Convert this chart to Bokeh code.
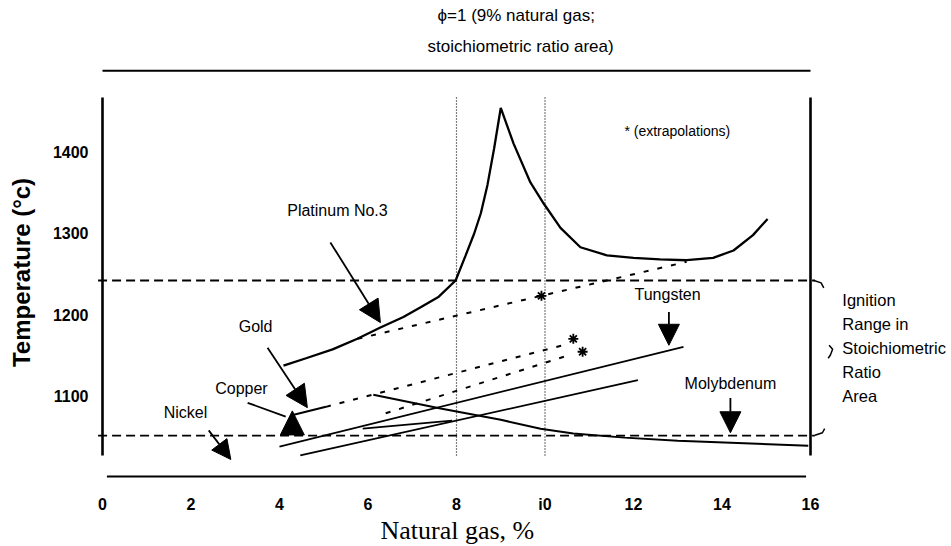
from bokeh.plotting import figure
from bokeh.models import Range1d, FixedTicker, Label, Arrow, NormalHead, Title
from bokeh.embed import file_html
from bokeh.resources import INLINE

# ---------------- data ----------------
x_ticks = [0, 2, 4, 6, 8, 10, 12, 14, 16]
x_tick_labels = {10: "i0"}
y_ticks = [1100, 1200, 1300, 1400]

# main temperature curve (solid, with peak at phi=1)
main_x = [4.09, 4.6, 5.2, 5.76, 6.28, 6.8, 7.19, 7.6, 7.98, 8.2, 8.4, 8.55, 8.7, 8.85, 9.0,
          9.29, 9.67, 9.97, 10.35, 10.8, 11.4, 12.0, 12.6, 13.2, 13.8, 14.26, 14.7, 15.03]
main_t = [1137, 1146, 1157, 1170, 1184, 1197, 1209, 1222, 1242, 1272, 1300, 1325, 1360, 1405, 1455,
          1411, 1363, 1337, 1307, 1283, 1273, 1270, 1268, 1267, 1270, 1279, 1298, 1318]

platinum_dash_x = [5.76, 13.2]
platinum_dash_t = [1170, 1265]

gold_solid_x = [4.3, 5.05]
gold_solid_t = [1076, 1086]
gold_dash_x = [5.05, 10.4]
gold_dash_t = [1086, 1162]

copper_dash_x = [6.4, 10.55]
copper_dash_t = [1078, 1150]

tungsten_x = [4.0, 13.13]
tungsten_t = [1037, 1160]

lower_x = [4.47, 12.1]
lower_t = [1026, 1119]

short_x = [5.88, 7.9]
short_t = [1059, 1069]

molybdenum_x = [6.12, 7.64, 9.0, 9.9, 10.64, 11.8, 13.0, 14.5, 15.95]
molybdenum_t = [1101, 1084, 1070, 1059, 1053, 1048, 1044, 1041, 1038]

star_x = [9.92, 10.64, 10.85]
star_t = [1223, 1170, 1154]

ignition_low = 1050.5
ignition_high = 1242
ignition_x = [-0.1, 16.1]

phi_lines_x = [8, 10]
axis_t = [1026, 1468]
top_rule_t = 1501
bottom_rule_t = 1000

brace_up_x = [16.08, 16.24, 16.3]
brace_up_t = [1242, 1239, 1233]
brace_mid_x = [16.42, 16.5, 16.45, 16.4]
brace_mid_t = [1162, 1157, 1150, 1146]
brace_lo_x = [16.1, 16.27, 16.32]
brace_lo_t = [1051, 1054, 1059]

# arrows: (x_start, t_start, x_end, t_end, head size)
arrows = [
    (5.15, 1289, 6.28, 1190, 22),   # Platinum No.3
    (3.73, 1159, 4.63, 1085, 22),   # Gold
    (4.29, 1057, 4.29, 1081, 24),   # Copper head (pointing up)
    (2.40, 1057, 2.90, 1021, 19),   # Nickel
    (12.8, 1203, 12.8, 1162, 21),   # Tungsten
    (14.19, 1097, 14.19, 1054, 21), # Molybdenum
]
copper_lead_x = [3.28, 4.14]
copper_lead_t = [1091, 1074]

# labels: (text, x, t, size)
labels = [
    ("Platinum No.3", 5.31, 1328.4, "16px"),
    ("Gold", 3.46, 1185.2, "16px"),
    ("Copper", 3.14, 1108.6, "16px"),
    ("Nickel", 1.876, 1079, "16px"),
    ("Tungsten", 12.77, 1224.7, "16px"),
    ("Molybdenum", 14.19, 1114.8, "16px"),
    ("* (extrapolations)", 12.99, 1426, "14px"),
]
side_labels = ["Ignition", "Range in", "Stoichiometric", "Ratio", "Area"]
side_t = [1217.3, 1187.7, 1158.6, 1129.6, 1098.8]
side_x = 16.72

title_line1 = "\u03d5=1 (9% natural gas;"
title_line2 = "stoichiometric ratio area)"
x_title = "Natural gas, %"
y_title = "Temperature (\u00b0c)"

# ---------------- figure ----------------
p = figure(frame_width=850, frame_height=420, title=None,
           x_range=Range1d(-0.113, 19.096), y_range=Range1d(992.6, 1511.1),
           output_backend="svg", toolbar_location=None,
           min_border_left=97, min_border_right=0, min_border_top=62, min_border_bottom=0,
           background_fill_color="white", border_fill_color="white")
p.outline_line_color = None
p.grid.visible = False

p.xaxis.ticker = FixedTicker(ticks=x_ticks)
p.xaxis.major_label_overrides = x_tick_labels
p.yaxis.ticker = FixedTicker(ticks=y_ticks)
for ax in (p.xaxis, p.yaxis):
    ax.axis_line_color = None
    ax.major_tick_in = 0
    ax.major_tick_out = 0
    ax.minor_tick_in = 0
    ax.minor_tick_out = 0
    ax.major_label_text_font = "Liberation Sans"
    ax.major_label_text_font_style = "bold"
    ax.major_label_text_font_size = "16px"
    ax.major_label_text_color = "black"
p.xaxis.major_label_standoff = 13
p.yaxis.major_label_standoff = 9
p.yaxis.axis_label = y_title
p.yaxis.axis_label_text_font = "Liberation Sans"
p.yaxis.axis_label_text_font_style = "bold"
p.yaxis.axis_label_text_font_size = "24px"
p.yaxis.axis_label_text_color = "black"
p.yaxis.axis_label_standoff = 15

# titles outside the frame
p.add_layout(Title(text=x_title, align="left", offset=283, vertical_align="top", standoff=0,
                   text_font="Liberation Serif", text_font_size="26px",
                   text_font_style="normal", text_color="black"), "below")
p.add_layout(Title(text=title_line2, align="left", offset=330, standoff=14,
                   text_font="Liberation Sans", text_font_size="17px",
                   text_font_style="normal", text_color="black"), "above")
p.add_layout(Title(text=title_line1, align="left", offset=340, standoff=5,
                   text_font="Liberation Sans", text_font_size="17px",
                   text_font_style="normal", text_color="black"), "above")

K = "black"
# frame rules
p.line([0, 0], axis_t, line_color=K, line_width=2.6)
p.line([16, 16], axis_t, line_color=K, line_width=2.6)
p.line([0, 16], [top_rule_t, top_rule_t], line_color=K, line_width=2)
p.line([0.1, 15.9], [bottom_rule_t, bottom_rule_t], line_color=K, line_width=2)
for xv in phi_lines_x:
    p.line([xv, xv], axis_t, line_color=K, line_width=1.2, line_dash="1 2")
p.line(ignition_x, [ignition_high, ignition_high], line_color=K, line_width=1.8, line_dash="9 5")
p.line(ignition_x, [ignition_low, ignition_low], line_color=K, line_width=1.8, line_dash="9 5")
p.line(brace_up_x, brace_up_t, line_color=K, line_width=1.5)
p.line(brace_mid_x, brace_mid_t, line_color=K, line_width=1.5)
p.line(brace_lo_x, brace_lo_t, line_color=K, line_width=1.5)

# data curves
p.line(main_x, main_t, line_color=K, line_width=2.3)
p.line(platinum_dash_x, platinum_dash_t, line_color=K, line_width=2, line_dash="5 9")
p.line(gold_solid_x, gold_solid_t, line_color=K, line_width=2)
p.line(gold_dash_x, gold_dash_t, line_color=K, line_width=2, line_dash="5 9")
p.line(copper_dash_x, copper_dash_t, line_color=K, line_width=2, line_dash="5 9")
p.line(tungsten_x, tungsten_t, line_color=K, line_width=1.8)
p.line(lower_x, lower_t, line_color=K, line_width=1.8)
p.line(short_x, short_t, line_color=K, line_width=1.8)
p.line(molybdenum_x, molybdenum_t, line_color=K, line_width=2)
p.line(copper_lead_x, copper_lead_t, line_color=K, line_width=1.8)
p.scatter(star_x, star_t, marker="asterisk", size=10, line_width=1.8, line_color=K)

for xs, ys, xe, ye, hs in arrows:
    p.add_layout(Arrow(end=NormalHead(size=hs, fill_color=K, line_color=K, line_width=1),
                       x_start=xs, y_start=ys, x_end=xe, y_end=ye,
                       line_color=K, line_width=1.8))

for txt, xv, tv, fs in labels:
    p.add_layout(Label(x=xv, y=tv, text=txt, text_font="Liberation Sans", text_font_size=fs,
                       text_align="center", text_baseline="middle", text_color=K))
for txt, tv in zip(side_labels, side_t):
    p.add_layout(Label(x=side_x, y=tv, text=txt, text_font="Liberation Sans", text_font_size="16.5px",
                       text_align="left", text_baseline="middle", text_color=K))

open("out.html", "w").write(file_html(p, INLINE))
